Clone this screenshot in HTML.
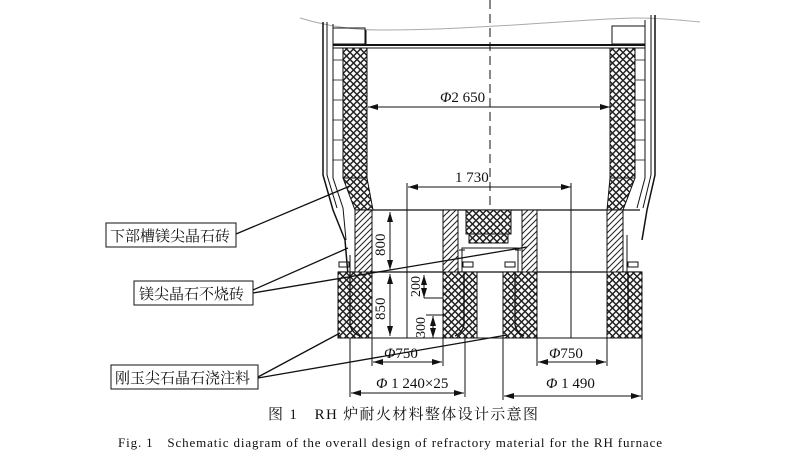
<!DOCTYPE html>
<html><head><meta charset="utf-8">
<style>
html,body{margin:0;padding:0;background:#fff;}
svg{display:block;}
text{font-family:"Liberation Serif","Noto Serif CJK SC",serif;fill:#111;}
.cj{font-family:"Liberation Serif","Noto Serif CJK SC","Noto Sans CJK SC",serif;}
</style></head><body>
<svg width="800" height="455" viewBox="0 0 800 455" xmlns="http://www.w3.org/2000/svg">
<defs>
<pattern id="mesh" width="7" height="7" patternUnits="userSpaceOnUse">
<rect width="7" height="7" fill="#fff"/>
<path d="M0 3.5 L3.5 0 L7 3.5 L3.5 7 Z" fill="none" stroke="#222" stroke-width="1.5"/>
</pattern>
<pattern id="hatch" width="6" height="6" patternUnits="userSpaceOnUse">
<rect width="6" height="6" fill="#fff"/>
<path d="M-1 7 L7 -1 M-1 1 L1 -1 M5 7 L7 5" stroke="#222" stroke-width="1"/>
</pattern>
<marker id="ar" markerWidth="10" markerHeight="6" refX="10" refY="3" orient="auto" markerUnits="userSpaceOnUse">
<path d="M0 0 L10 3 L0 6 Z" fill="#111"/></marker>
<marker id="al" markerWidth="10" markerHeight="6" refX="0" refY="3" orient="auto" markerUnits="userSpaceOnUse">
<path d="M10 0 L0 3 L10 6 Z" fill="#111"/></marker>
</defs>

<g stroke="#111" fill="none" stroke-width="1">
<path d="M300 18 Q340 30 380 30 T460 28 T560 22 T640 18 T700 22" stroke="#aaa"/>
<path d="M323 22 L323 175 L333 210 L345 240 L348 275" stroke-width="1.5"/>
<path d="M327 22 L327 175 L337 208"/>
<path d="M333 24 L333 178 L343 208 L346 240"/>
<rect x="333" y="28" width="32" height="16"/>
<path d="M655 15 L655 175 L647 210 L642 240" stroke-width="1.5"/>
<path d="M651 15 L651 175 L643 208"/>
<path d="M645 20 L645 178 L637 208"/>
<rect x="612" y="26" width="33" height="18"/>
<line x1="333" y1="45" x2="645" y2="45" stroke-width="2"/>
<line x1="333" y1="48" x2="645" y2="48"/>
<line x1="366" y1="30" x2="366" y2="45"/>
</g>
<rect x="343" y="48" width="24" height="130" fill="url(#mesh)" stroke="#111"/>
<rect x="610" y="48" width="25" height="130" fill="url(#mesh)" stroke="#111"/>
<path d="M343 178 L367 178 L373 210 L355 210 Z" fill="url(#mesh)" stroke="#111"/>
<path d="M610 178 L635 178 L623 210 L607 210 Z" fill="url(#mesh)" stroke="#111"/>
<g stroke="#111" fill="none" stroke-width="0.8">
<path d="M333 60 h10 M333 80 h10 M333 100 h10 M333 120 h10 M333 140 h10 M333 160 h10"/>
<path d="M635 60 h10 M635 80 h10 M635 100 h10 M635 120 h10 M635 140 h10 M635 160 h10"/>
</g>

<line x1="490" y1="0" x2="490" y2="210" stroke="#111" stroke-dasharray="9,5"/>

<line x1="368" y1="107" x2="610" y2="107" stroke="#111" marker-start="url(#al)" marker-end="url(#ar)"/>
<text x="440" y="102" font-size="15"><tspan font-style="italic">Φ</tspan>2 650</text>
<line x1="408" y1="187" x2="571" y2="187" stroke="#111" marker-start="url(#al)" marker-end="url(#ar)"/>
<line x1="407" y1="183" x2="407" y2="338" stroke="#111"/>
<line x1="571" y1="183" x2="571" y2="338" stroke="#111"/>
<text x="455" y="182" font-size="15">1 730</text>

<line x1="355" y1="210" x2="640" y2="210" stroke="#111" stroke-width="1.3"/>
<line x1="338" y1="272" x2="642" y2="272" stroke="#111" stroke-width="1.3"/>

<rect x="355" y="210" width="17" height="62" fill="url(#hatch)" stroke="#111"/>
<rect x="443" y="210" width="15" height="62" fill="url(#hatch)" stroke="#111"/>
<rect x="522" y="210" width="15" height="62" fill="url(#hatch)" stroke="#111"/>
<rect x="607" y="210" width="16" height="62" fill="url(#hatch)" stroke="#111"/>
<rect x="466" y="210" width="45" height="24" fill="url(#mesh)" stroke="#111"/>
<rect x="469" y="234" width="39" height="9" fill="url(#mesh)" stroke="#111"/>
<g stroke="#111" fill="none">
<path d="M462 272 L462 248 L518 248 L518 272"/>
<path d="M459 250 h6 M515 250 h6"/>
<rect x="339" y="262" width="10" height="5"/>
<rect x="463" y="262" width="10" height="5"/>
<rect x="505" y="262" width="10" height="5"/>
<rect x="628" y="262" width="10" height="5"/>
<path d="M350 255 L350 330"/>
<path d="M627 235 L627 330"/>
</g>

<rect x="338" y="272" width="34" height="66" fill="url(#mesh)" stroke="#111"/>
<rect x="443" y="272" width="34" height="66" fill="url(#mesh)" stroke="#111"/>
<rect x="503" y="272" width="34" height="66" fill="url(#mesh)" stroke="#111"/>
<rect x="607" y="272" width="35" height="66" fill="url(#mesh)" stroke="#111"/>
<g stroke="#111" stroke-width="1.3" fill="none">
<path d="M350 272 L350 325 Q352 333 360 336"/>
<path d="M464 272 L464 325 Q462 333 455 336"/>
<path d="M515 272 L515 325 Q517 333 524 336"/>
<path d="M628 272 L628 325"/>
</g>
<line x1="338" y1="338" x2="642" y2="338" stroke="#111"/>

<line x1="390" y1="212" x2="390" y2="270" stroke="#111" marker-start="url(#al)" marker-end="url(#ar)"/>
<line x1="390" y1="274" x2="390" y2="336" stroke="#111" marker-start="url(#al)" marker-end="url(#ar)"/>
<text font-size="15" transform="translate(385,256) rotate(-90)">800</text>
<text font-size="15" transform="translate(385,320) rotate(-90)">850</text>
<line x1="407" y1="290" x2="407" y2="338" stroke="#111"/>
<line x1="424" y1="275" x2="424" y2="298" stroke="#111" marker-start="url(#al)" marker-end="url(#ar)"/>
<line x1="424" y1="298" x2="443" y2="298" stroke="#111"/>
<line x1="433" y1="316" x2="433" y2="338" stroke="#111" marker-start="url(#al)" marker-end="url(#ar)"/>
<line x1="426" y1="315" x2="443" y2="315" stroke="#111"/>
<text font-size="14" transform="translate(420,297) rotate(-90)">200</text>
<text font-size="14" transform="translate(425,338) rotate(-90)">300</text>

<g stroke="#111">
<line x1="350" y1="338" x2="350" y2="397"/>
<line x1="372" y1="338" x2="372" y2="366"/>
<line x1="443" y1="338" x2="443" y2="366"/>
<line x1="465" y1="338" x2="465" y2="397"/>
<line x1="503" y1="338" x2="503" y2="400"/>
<line x1="537" y1="338" x2="537" y2="366"/>
<line x1="607" y1="338" x2="607" y2="366"/>
<line x1="642" y1="338" x2="642" y2="400"/>
</g>
<line x1="373" y1="362" x2="442" y2="362" stroke="#111" marker-start="url(#al)" marker-end="url(#ar)"/>
<line x1="538" y1="362" x2="606" y2="362" stroke="#111" marker-start="url(#al)" marker-end="url(#ar)"/>
<line x1="351" y1="393" x2="464" y2="393" stroke="#111" marker-start="url(#al)" marker-end="url(#ar)"/>
<line x1="504" y1="396" x2="641" y2="396" stroke="#111" marker-start="url(#al)" marker-end="url(#ar)"/>
<text x="384" y="358" font-size="15"><tspan font-style="italic">Φ</tspan>750</text>
<text x="549" y="358" font-size="15"><tspan font-style="italic">Φ</tspan>750</text>
<text x="376" y="388" font-size="15"><tspan font-style="italic">Φ</tspan> 1 240×25</text>
<text x="546" y="388" font-size="15"><tspan font-style="italic">Φ</tspan> 1 490</text>

<g stroke="#111" fill="#fff">
<rect x="106" y="223" width="130" height="24"/>
<rect x="134" y="281" width="119" height="24"/>
<rect x="111" y="365" width="147" height="24"/>
</g>
<text class="cj" x="110" y="241" font-size="15">下部槽镁尖晶石砖</text>
<text class="cj" x="139" y="299" font-size="15">镁尖晶石不烧砖</text>
<text class="cj" x="115" y="383" font-size="15">刚玉尖石晶石浇注料</text>
<g stroke="#111" stroke-width="1.3">
<line x1="236" y1="234" x2="350" y2="186"/>
<line x1="253" y1="290" x2="348" y2="248"/>
<line x1="253" y1="293" x2="527" y2="247"/>
<line x1="258" y1="377" x2="340" y2="333"/>
<line x1="258" y1="378" x2="507" y2="335"/>
</g>

<text class="cj" x="268" y="419" font-size="15" textLength="270" lengthAdjust="spacing">图 1　RH 炉耐火材料整体设计示意图</text>
<text x="118" y="447" font-size="13" textLength="544" lengthAdjust="spacing">Fig. 1　Schematic diagram of the overall design of refractory material for the RH furnace</text>
</svg>
</body></html>
